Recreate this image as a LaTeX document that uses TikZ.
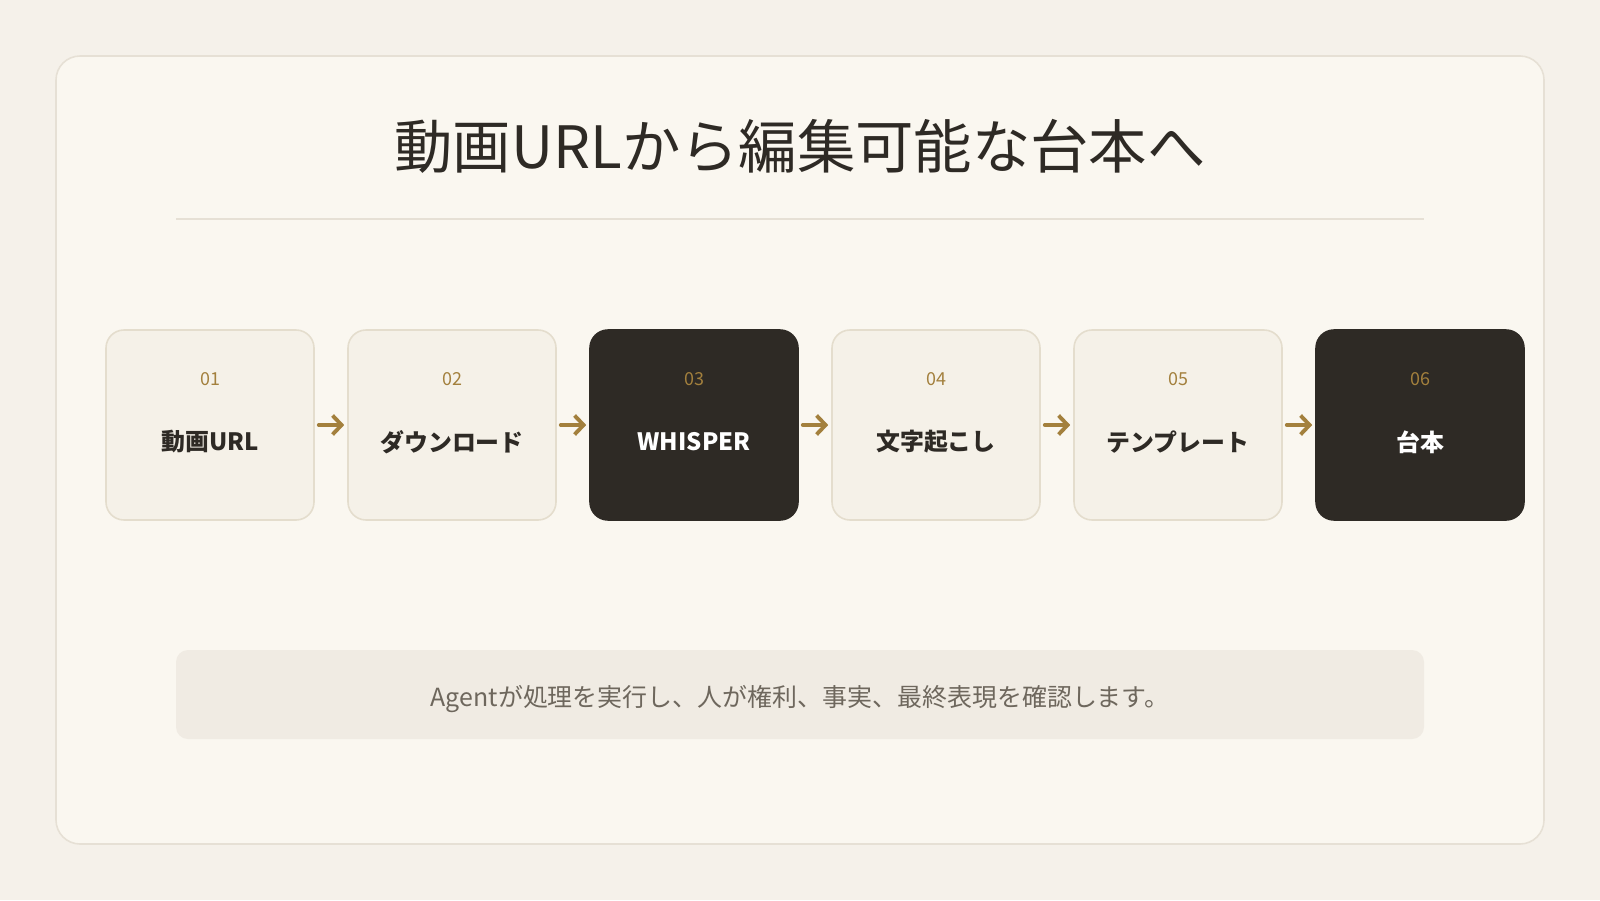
\documentclass[tikz,border=0pt]{standalone}
\usepackage{fontspec}
\usepackage{xcolor}
\usetikzlibrary{arrows.meta,positioning}
\setmainfont{Noto Sans CJK JP}

\definecolor{pagebg}{HTML}{F5F1EA}
\definecolor{cardfill}{HTML}{FAF7F0}
\definecolor{cardline}{HTML}{E6E0D5}
\definecolor{boxfill}{HTML}{F5F1E8}
\definecolor{boxline}{HTML}{E4DDCD}
\definecolor{darkfill}{HTML}{2E2A25}
\definecolor{gold}{HTML}{A3803D}
\definecolor{notefill}{HTML}{F0EBE3}
\definecolor{notetext}{HTML}{6E675D}

\tikzset{
  stepcard/.style={draw=boxline, fill=boxfill, line width=0.45pt, rounded corners=0.18cm,
    minimum width=2.08cm, minimum height=1.90cm, inner sep=0pt},
  darkcard/.style={stepcard, draw=darkfill, fill=darkfill},
  numlabel/.style={text=gold, font=\fontsize{5.1}{6}\selectfont},
  steplabel/.style={font=\fontsize{6.8}{8}\selectfont\bfseries},
  flow/.style={-{Straight Barb[length=0.9mm, width=1.9mm]}, line width=1.1pt, gold, line cap=round},
}

\begin{document}
\begin{tikzpicture}
        % page and card
        \fill[pagebg] (0,0) rectangle (16,9);
        \useasboundingbox (0,0) rectangle (16,9);
        \draw[cardline, fill=cardfill, line width=0.45pt, rounded corners=0.24cm] (0.56,0.56) rectangle (15.44,8.44);

        \node[text=darkfill, font=\fontsize{16.6}{19}\selectfont] (title) at (8,7.54) {動画URLから編集可能な台本へ};
        \coordinate (ruleL) at (1.76,6.81);
        \coordinate (ruleR) at (14.24,6.81);
        \draw[cardline, line width=0.6pt] (ruleL) -- (ruleR);

        % steps
        \foreach \i/\lbl/\kind/\tcol in {1/動画URL/stepcard/darkfill, 2/ダウンロード/stepcard/darkfill,
                3/WHISPER/darkcard/white, 4/文字起こし/stepcard/darkfill,
                5/テンプレート/stepcard/darkfill, 6/台本/darkcard/white} {
            \node[\kind] (s\i) at ({2.10+(\i-1)*2.42}, 4.75) {};
            \node[numlabel] (n\i) at ([yshift=0.46cm]s\i.center) {0\i};
            \node[steplabel, text=\tcol] (t\i) at ([yshift=-0.17cm]s\i.center) {\lbl};
        }
        \foreach \i [evaluate=\i as \j using int(\i+1)] in {1,...,5}
            \draw[flow] ([xshift=0.04cm]s\i.east) -- ([xshift=-0.03cm]s\j.west);

        % note
        \node[fill=notefill, rounded corners=0.12cm, minimum width=12.48cm, minimum height=0.89cm] (note) at (8,2.055) {};
        \node[text=notetext, font=\fontsize{7.1}{8}\selectfont] (notetxt) at ([yshift=-0.05cm]note.center)
              {Agentが処理を実行し、人が権利、事実、最終表現を確認します。};
    \end{tikzpicture}
\end{document}
